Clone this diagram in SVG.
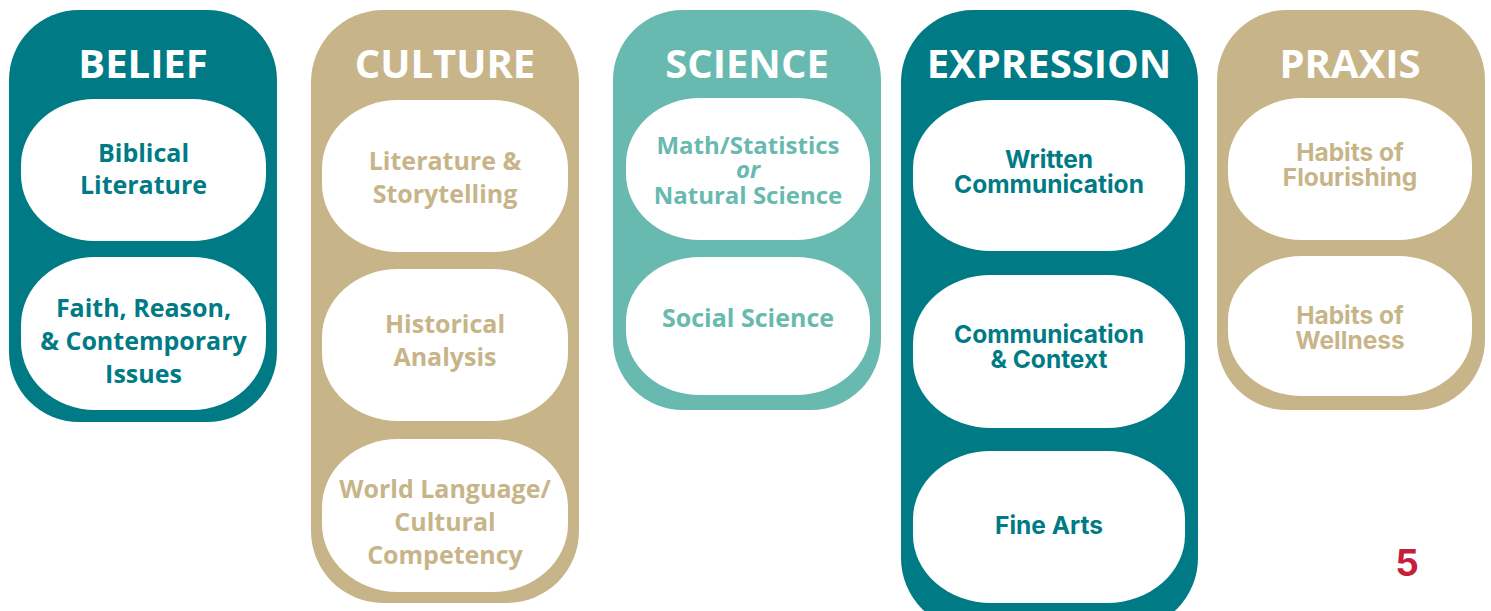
<svg xmlns="http://www.w3.org/2000/svg" width="1491" height="611" viewBox="0 0 1491 611">
  <style>
    .teal { fill: #007B86; }
    .tan { fill: #C7B589; }
    .mint { fill: #68B9AF; }
    .pill { fill: #FFFFFF; }
    .title { font-family: "Open Sans", "Liberation Sans", sans-serif; font-weight: 700; font-size: 40px; fill: #FFFFFF; text-anchor: middle; }
    .lbl { font-family: "Open Sans", "Liberation Sans", sans-serif; font-weight: 700; font-size: 25px; text-anchor: middle; }
    .lbl-s { font-family: "Open Sans", "Liberation Sans", sans-serif; font-weight: 700; font-size: 24px; text-anchor: middle; }
    .lbl2 { font-family: "Inter", "Liberation Sans", sans-serif; font-weight: 700; font-size: 24.5px; text-anchor: middle; }
    .t-teal { fill: #007B86; }
    .t-tan { fill: #C7B589; }
    .t-mint { fill: #68B9AF; }
    .num { font-family: "Inter", "Liberation Sans", sans-serif; font-weight: 700; font-size: 37px; fill: #C61F3A; text-anchor: middle; }
  </style>

  <!-- Belief column -->
  <g id="belief">
    <rect class="teal" x="9" y="10" width="268" height="412" rx="70" ry="70"/>
    <text class="title" x="143" y="78">BELIEF</text>
    <rect class="pill" x="21" y="99" width="245" height="142" rx="74" ry="66"/>
    <text class="lbl t-teal" x="143.5" y="162">Biblical</text>
    <text class="lbl t-teal" x="143.5" y="194">Literature</text>
    <rect class="pill" x="21" y="257" width="245" height="153" rx="74" ry="68"/>
    <text class="lbl t-teal" x="143.5" y="317">Faith, Reason,</text>
    <text class="lbl t-teal" x="143.5" y="350">&amp; Contemporary</text>
    <text class="lbl t-teal" x="143.5" y="383">Issues</text>
  </g>

  <!-- Culture column -->
  <g id="culture">
    <rect class="tan" x="311" y="10" width="268" height="593" rx="72" ry="72"/>
    <text class="title" x="445" y="78">CULTURE</text>
    <rect class="pill" x="322" y="100" width="246" height="152" rx="76" ry="68"/>
    <text class="lbl t-tan" x="445" y="170">Literature &amp;</text>
    <text class="lbl t-tan" x="445" y="203">Storytelling</text>
    <rect class="pill" x="322" y="269" width="246" height="152" rx="76" ry="68"/>
    <text class="lbl t-tan" x="445" y="333">Historical</text>
    <text class="lbl t-tan" x="445" y="366">Analysis</text>
    <rect class="pill" x="322" y="439" width="246" height="153" rx="76" ry="68"/>
    <text class="lbl t-tan" x="445" y="498">World Language/</text>
    <text class="lbl t-tan" x="445" y="531">Cultural</text>
    <text class="lbl t-tan" x="445" y="564">Competency</text>
  </g>

  <!-- Science column -->
  <g id="science">
    <rect class="mint" x="613" y="10" width="268" height="400" rx="70" ry="70"/>
    <text class="title" x="747" y="78">SCIENCE</text>
    <rect class="pill" x="626" y="98" width="244" height="142" rx="74" ry="66"/>
    <text class="lbl-s t-mint" x="748" y="154">Math/Statistics</text>
    <text class="lbl-s t-mint" x="748" y="178" font-style="italic">or</text>
    <text class="lbl-s t-mint" x="748" y="204">Natural Science</text>
    <rect class="pill" x="626" y="257" width="244" height="138" rx="74" ry="64"/>
    <text class="lbl t-mint" x="748" y="327">Social Science</text>
  </g>

  <!-- Expression column (runs past the bottom edge) -->
  <g id="expression">
    <rect class="teal" x="901" y="10" width="297" height="620" rx="72" ry="72"/>
    <text class="title" x="1049" y="78">EXPRESSION</text>
    <rect class="pill" x="913" y="100" width="272" height="151" rx="78" ry="68"/>
    <text class="lbl2 t-teal" x="1049" y="168">Written</text>
    <text class="lbl2 t-teal" x="1049" y="193">Communication</text>
    <rect class="pill" x="913" y="275" width="272" height="153" rx="78" ry="68"/>
    <text class="lbl2 t-teal" x="1049" y="343">Communication</text>
    <text class="lbl2 t-teal" x="1049" y="368">&amp; Context</text>
    <rect class="pill" x="913" y="451" width="272" height="152" rx="78" ry="68"/>
    <text class="lbl2 t-teal" x="1049" y="534">Fine Arts</text>
  </g>

  <!-- Praxis column -->
  <g id="praxis">
    <rect class="tan" x="1217" y="10" width="268" height="400" rx="70" ry="70"/>
    <text class="title" x="1350" y="78">PRAXIS</text>
    <rect class="pill" x="1228" y="98" width="244" height="142" rx="74" ry="66"/>
    <text class="lbl2 t-tan" x="1350" y="161">Habits of</text>
    <text class="lbl2 t-tan" x="1350" y="186">Flourishing</text>
    <rect class="pill" x="1228" y="256" width="244" height="140" rx="74" ry="64"/>
    <text class="lbl2 t-tan" x="1350" y="324">Habits of</text>
    <text class="lbl2 t-tan" x="1350" y="349">Wellness</text>
  </g>

  <!-- Page number -->
  <g id="page-number">
    <text class="num" x="1407" y="576">5</text>
  </g>

  <!-- no connectors in this layout -->
  <g id="connectors"/>
</svg>
